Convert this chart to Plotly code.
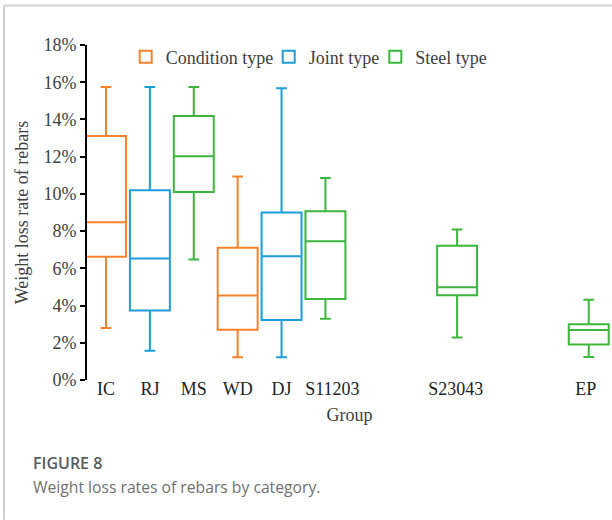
import plotly.graph_objects as go

# ---- data (% weight loss) ----
groups = ["IC", "RJ", "MS", "WD", "DJ", "S11203", "S23043", "EP"]
group_pos = [0, 1, 2, 3, 4, 5, 8, 11]
tick_pos = [0, 1, 2, 3, 4, 5.16, 7.97, 10.93]
group_type = ["Condition type", "Joint type", "Steel type", "Condition type",
              "Joint type", "Steel type", "Steel type", "Steel type"]
lower = [2.79, 1.57, 6.47, 1.22, 1.22, 3.29, 2.29, 1.23]
q1 = [6.62, 3.74, 10.10, 2.70, 3.22, 4.35, 4.56, 1.91]
median = [8.48, 6.53, 12.02, 4.54, 6.65, 7.46, 4.99, 2.68]
q3 = [13.11, 10.19, 14.18, 7.10, 9.00, 9.07, 7.22, 2.99]
upper = [15.74, 15.74, 15.74, 10.94, 15.68, 10.85, 8.08, 4.31]
type_names = ["Condition type", "Joint type", "Steel type"]
type_colors = ["#F7822B", "#1E9ED9", "#3DB53F"]
y_ticks = [0, 2, 4, 6, 8, 10, 12, 14, 16, 18]

W, H = 612, 520
L, R, T, B = 87, 0, 44.5, 140
PW, PH = W - L - R, H - T - B


def px(x):
    return (x - L) / PW


def py(y):
    return (H - B - y) / PH


serif = "Liberation Serif, Times New Roman, serif"
legend_ids = ["legend", "legend2", "legend3"]
legend_x = [125.7, 268.7, 375.3]

fig = go.Figure()
for name, col, lid in zip(type_names, type_colors, legend_ids):
    idx = [i for i, t in enumerate(group_type) if t == name]
    fig.add_trace(go.Box(
        name=name,
        legend=lid,
        x=[group_pos[i] for i in idx],
        q1=[q1[i] for i in idx],
        median=[median[i] for i in idx],
        q3=[q3[i] for i in idx],
        lowerfence=[lower[i] for i in idx],
        upperfence=[upper[i] for i in idx],
        width=0.91,
        whiskerwidth=0.27,
        line=dict(color=col, width=2),
        fillcolor="rgba(255,255,255,0)",
        boxpoints=False,
        hoverinfo="skip",
    ))

legend_style = dict(orientation="h", xanchor="left", yanchor="top", y=py(38),
                    font=dict(family=serif, size=18, color="#404040"),
                    bgcolor="rgba(0,0,0,0)", itemclick=False, itemdoubleclick=False)

fig.update_layout(
    width=W, height=H,
    margin=dict(l=L, r=R, t=T, b=B),
    paper_bgcolor="white", plot_bgcolor="white",
    boxmode="overlay",
    font=dict(family=serif, size=18, color="#404040"),
    showlegend=True,
    legend=dict(x=px(legend_x[0]), **legend_style),
    legend2=dict(x=px(legend_x[1]), **legend_style),
    legend3=dict(x=px(legend_x[2]), **legend_style),
    xaxis=dict(
        range=[-0.433, 11.53],
        anchor="free", position=py(376),
        tickvals=tick_pos, ticktext=groups,
        showgrid=False, zeroline=False, showline=False, ticks="",
        tickfont=dict(family=serif, size=18, color="#222222"),
        title=dict(text="Group", font=dict(family=serif, size=18, color="#404040"), standoff=10),
    ),
    yaxis=dict(
        range=[0, 18],
        tickvals=y_ticks, ticktext=[f"{v}%" for v in y_ticks],
        showgrid=False, zeroline=False,
        showline=True, linecolor="black", linewidth=2,
        ticks="outside", ticklen=5, tickwidth=2, tickcolor="black",
        tickfont=dict(family=serif, size=18, color="#404040"),
        title=dict(text="Weight loss rate of rebars", font=dict(family=serif, size=18, color="#404040"),
                   standoff=10),
    ),
)

# frame lines
fig.add_shape(type="line", xref="paper", yref="paper", x0=px(4), x1=px(612), y0=py(5), y1=py(5),
              line=dict(color="#D0D0D0", width=2))
fig.add_shape(type="line", xref="paper", yref="paper", x0=px(4), x1=px(4), y0=py(5), y1=py(520),
              line=dict(color="#D0D0D0", width=2))

# caption
sans = "Open Sans, Noto Sans, sans-serif"
fig.add_annotation(text="FIGURE 8", xref="paper", yref="paper", x=px(31), y=py(463),
                   xanchor="left", yanchor="middle", showarrow=False,
                   font=dict(family=sans, size=16, color="#5A5A5A", weight=600))
fig.add_annotation(text="Weight loss rates of rebars by category.", xref="paper", yref="paper",
                   x=px(31), y=py(487), xanchor="left", yanchor="middle", showarrow=False,
                   font=dict(family=sans, size=15.7, color="#707070"))

fig.write_html("out.html", config={"displayModeBar": False},
               post_script="document.body.style.margin='0';")
